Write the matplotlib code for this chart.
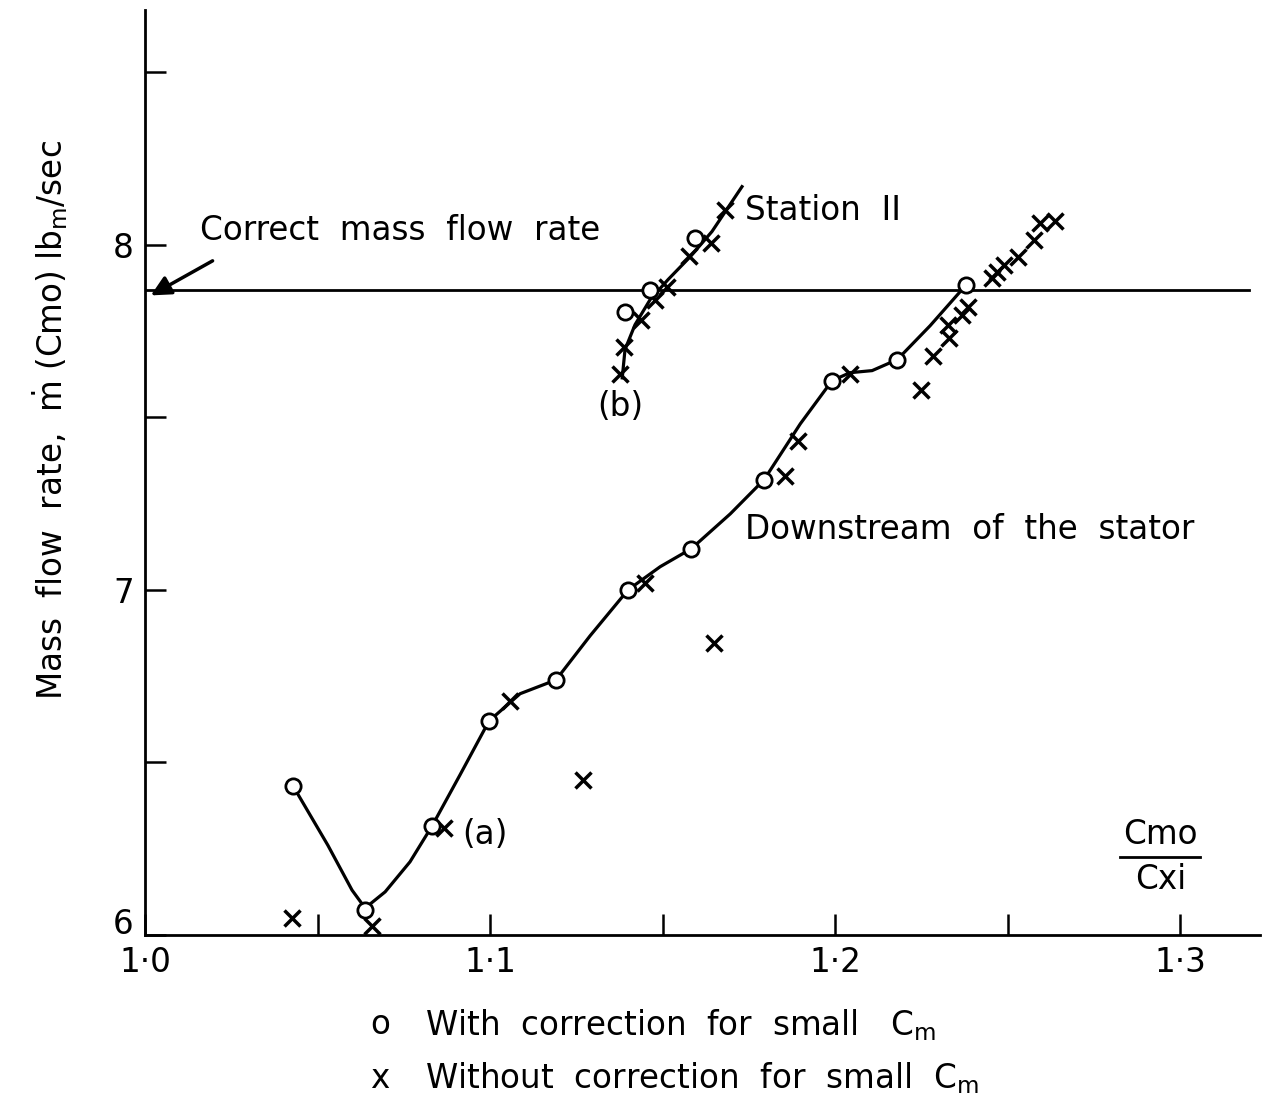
import numpy as np
import matplotlib
matplotlib.use("Agg")
import matplotlib.pyplot as plt
import matplotlib.transforms as mtransforms

plt.rcParams['font.family'] = ['DejaVu Sans']
plt.rcParams['mathtext.fontset'] = 'dejavusans'

# Downstream of the stator (a): with correction (circles)
a_corr_x = [1.0429, 1.0638, 1.0832, 1.0997, 1.1191, 1.1400, 1.1583, 1.1794, 1.1991, 1.2180, 1.2380]
a_corr_y = [6.432, 6.072, 6.316, 6.620, 6.739, 7.000, 7.119, 7.319, 7.606, 7.667, 7.884]

# (a): without correction (crosses)
a_raw_x = [1.0426, 1.0658, 1.0867, 1.1058, 1.1270, 1.1449, 1.1649, 1.1855, 1.1893, 1.2043,
           1.2249, 1.2284, 1.2330, 1.2328, 1.2368, 1.2386, 1.2455, 1.2470, 1.2490, 1.2530,
           1.2577, 1.2594, 1.2638]
a_raw_y = [6.049, 6.026, 6.310, 6.678, 6.449, 7.020, 6.846, 7.330, 7.432, 7.626,
           7.580, 7.678, 7.730, 7.768, 7.797, 7.820, 7.904, 7.922, 7.942, 7.965,
           8.014, 8.064, 8.067]

# faired curve through (a)
a_curve_x = [1.0429, 1.0530, 1.0600, 1.0638, 1.0696, 1.0768, 1.0832, 1.0913, 1.0997, 1.1087,
             1.1191, 1.1290, 1.1400, 1.1493, 1.1583, 1.1696, 1.1794, 1.1899, 1.1991, 1.2043,
             1.2107, 1.2180, 1.2275, 1.2380]
a_curve_y = [6.432, 6.260, 6.130, 6.078, 6.125, 6.212, 6.316, 6.464, 6.620, 6.699,
             6.739, 6.867, 7.000, 7.067, 7.119, 7.220, 7.319, 7.481, 7.606, 7.629,
             7.635, 7.667, 7.765, 7.884]

# Station II (b)
b_corr_x = [1.1391, 1.1464, 1.1594]
b_corr_y = [7.806, 7.870, 8.020]
b_raw_x = [1.1377, 1.1388, 1.1438, 1.1478, 1.1513, 1.1577, 1.1641, 1.1681]
b_raw_y = [7.626, 7.704, 7.783, 7.841, 7.878, 7.968, 8.006, 8.101]
b_curve_x = [1.1383, 1.1391, 1.1420, 1.1464, 1.1516, 1.1580, 1.1643, 1.1730]
b_curve_y = [7.614, 7.696, 7.768, 7.841, 7.899, 7.965, 8.038, 8.168]

correct_flow = 7.87

fs = 23.5

fig = plt.figure(figsize=(12.66, 11), dpi=100)
ax = fig.add_axes([0.1145, 0.15, 0.8805, 0.841])

ax.plot(a_curve_x, a_curve_y, color='black', lw=2.3)
ax.plot(b_curve_x, b_curve_y, color='black', lw=2.3)
ax.plot([1.0, 1.32], [correct_flow, correct_flow], color='black', lw=2)

ax.plot(a_raw_x, a_raw_y, 'x', color='black', ms=11, mew=2.5)
ax.plot(b_raw_x, b_raw_y, 'x', color='black', ms=11, mew=2.5)
ax.plot(a_corr_x, a_corr_y, 'o', mfc='white', mec='black', ms=11, mew=2)
ax.plot(b_corr_x, b_corr_y, 'o', mfc='white', mec='black', ms=11, mew=2)

ax.set_xlim(1.0, 1.323)
ax.set_ylim(6.0, 8.68)
for s in ['top', 'right']:
    ax.spines[s].set_visible(False)
for s in ['left', 'bottom']:
    ax.spines[s].set_linewidth(2)

ax.set_xticks(np.arange(1.0, 1.301, 0.05))
ax.set_xticklabels(['1·0', '', '1·1', '', '1·2', '', '1·3'])
ax.set_yticks(np.arange(6.0, 8.51, 0.5))
ax.set_yticklabels(['6', '', '7', '', '8', ''])
ax.tick_params(direction='in', length=15, width=1.8, labelsize=fs, pad=8)

# lift the "6" so it clears the 1·0 label
lbl6 = ax.get_yticklabels()[0]
lbl6.set_transform(lbl6.get_transform() +
                   mtransforms.ScaledTranslation(0, 14 / 100, fig.dpi_scale_trans))

ax.annotate('', xy=(1.001, 7.849), xytext=(1.0203, 7.957),
            arrowprops=dict(arrowstyle='-|>', lw=2.5, color='black', mutation_scale=30))
ax.text(1.0159, 8.04, 'Correct  mass  flow  rate', fontsize=fs, va='center', ha='left')
ax.text(1.1739, 8.10, 'Station  II', fontsize=fs, va='center', ha='left')
ax.text(1.1377, 7.53, '(b)', fontsize=fs, va='center', ha='center')
ax.text(1.0919, 6.29, '(a)', fontsize=fs, va='center', ha='left')
ax.text(1.1739, 7.174, 'Downstream  of  the  stator', fontsize=fs, va='center', ha='left')
ax.text(1.2942, 6.29, 'Cmo', fontsize=fs, va='center', ha='center')
ax.text(1.2942, 6.16, 'Cxi', fontsize=fs, va='center', ha='center')
ax.plot([1.2826, 1.3058], [6.226, 6.226], color='black', lw=2)

fig.text(50 / 1266, 1 - 420 / 1100,
         r'Mass  flow  rate,  $\dot{\mathrm{m}}$ (Cmo) lb$_\mathrm{m}$/sec',
         rotation=90, fontsize=fs, ha='center', va='center')

fig.text(380 / 1266, 1 - 1025 / 1100, 'o', fontsize=fs, ha='center', va='center')
fig.text(425 / 1266, 1 - 1025 / 1100, r'With  correction  for  small   C$_\mathrm{m}$',
         fontsize=fs, ha='left', va='center')
fig.text(380 / 1266, 1 - 1078 / 1100, 'x', fontsize=fs, ha='center', va='center')
fig.text(425 / 1266, 1 - 1078 / 1100, r'Without  correction  for  small  C$_\mathrm{m}$',
         fontsize=fs, ha='left', va='center')

fig.savefig('out.png', dpi=100)
